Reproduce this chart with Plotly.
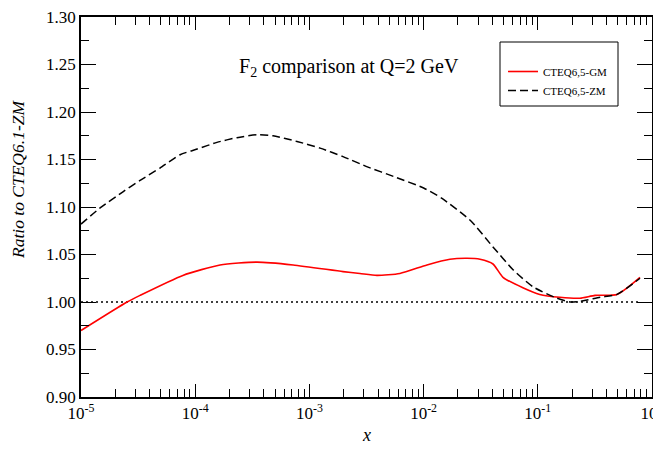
import plotly.graph_objects as go

# Data
x_gm = [1e-5, 2.53e-5, 3.29e-5, 7.8e-5, 1.65e-4, 3.48e-4, 7.2e-4, 1.97e-3, 2.77e-3, 3.9e-3,
        6.2e-3, 1.07e-2, 1.70e-2, 2.40e-2, 3.12e-2, 4.05e-2, 4.96e-2, 7.4e-2, 0.104, 0.156,
        0.234, 0.317, 0.494, 0.785]
y_gm = [0.970, 1.000, 1.007, 1.028, 1.039, 1.042, 1.039, 1.032, 1.030, 1.028,
        1.030, 1.039, 1.045, 1.046, 1.045, 1.040, 1.026, 1.015, 1.008, 1.005,
        1.004, 1.007, 1.008, 1.026]

x_zm = [1e-5, 1.47e-5, 2.33e-5, 3.29e-5, 4.92e-5, 7.37e-5, 1.04e-4, 1.55e-4, 2.32e-4, 3.48e-4,
        4.80e-4, 7.78e-4, 1.24e-3, 1.97e-3, 3.26e-3, 5.5e-3, 1.0e-2, 1.45e-2, 2.56e-2, 4.05e-2,
        6.07e-2, 9.08e-2, 0.147, 0.191, 0.244, 0.351, 0.494, 0.785]
y_zm = [1.082, 1.099, 1.116, 1.128, 1.141, 1.155, 1.161, 1.168, 1.173, 1.176,
        1.175, 1.169, 1.162, 1.153, 1.142, 1.132, 1.120, 1.109, 1.086, 1.058,
        1.034, 1.016, 1.004, 1.000, 1.001, 1.005, 1.008, 1.025]

x_ref = [1e-5, 0.8]
y_ref = [1.0, 1.0]

x_ticks = [1e-5, 1e-4, 1e-3, 1e-2, 1e-1, 1]
x_ticktext = ["10<sup>-5</sup>", "10<sup>-4</sup>", "10<sup>-3</sup>", "10<sup>-2</sup>",
              "10<sup>-1</sup>", "10<sup>0</sup>"]

minor_x = [m * 10 ** e for e in range(-5, 0) for m in range(2, 10)]

FONT = "Liberation Serif"

fig = go.Figure()
fig.add_trace(go.Scatter(x=x_ref, y=y_ref, mode="lines", showlegend=False,
                         line=dict(color="black", width=1.5, dash="2px,3px")))
fig.add_trace(go.Scatter(x=x_gm, y=y_gm, mode="lines", name="CTEQ6,5-GM",
                         line=dict(color="#ff0000", width=1.6, shape="spline", smoothing=0.6)))
fig.add_trace(go.Scatter(x=x_zm, y=y_zm, mode="lines", name="CTEQ6,5-ZM",
                         line=dict(color="black", width=1.5, dash="8px,4px", shape="spline", smoothing=0.6)))

# page body has an 8px default margin, so the figure is sized/offset to compensate
fig.update_layout(
    width=653, height=446,
    margin=dict(l=73, r=9, t=9, b=57),
    paper_bgcolor="white", plot_bgcolor="white",
    font=dict(family=FONT, color="black", size=15),
    showlegend=True,
    legend=dict(x=(503 - 81) / 571, y=(397 - 57) / 380, xanchor="left", yanchor="top",
                bgcolor="rgba(0,0,0,0)", borderwidth=0,
                font=dict(family=FONT, size=11), tracegroupgap=0,
                itemwidth=30),
    shapes=[dict(type="rect", xref="paper", yref="paper",
                 x0=(500 - 81) / 571, x1=(618 - 81) / 571,
                 y0=(397 - 106) / 380, y1=(397 - 42) / 380,
                 line=dict(color="black", width=1))],
    annotations=[dict(text="F<sub>2</sub> comparison at Q=2 GeV", xref="paper", yref="paper",
                      x=(349 - 81) / 571, y=(397 - 68) / 380, showarrow=False, xanchor="center", yanchor="middle",
                      font=dict(family=FONT, size=20)),
                 dict(text="<i>x</i>", xref="paper", yref="paper", x=(366 - 81) / 571,
                      y=(397 - 435) / 380, showarrow=False, xanchor="center", yanchor="middle",
                      font=dict(family=FONT, size=18)),
                 dict(text="<i>Ratio to CTEQ6.1-ZM</i>", xref="paper", yref="paper",
                      x=(18 - 81) / 571, y=(397 - 180) / 380, showarrow=False, textangle=-90,
                      xanchor="center", yanchor="middle",
                      font=dict(family=FONT, size=17.5))],
)

fig.update_xaxes(
    type="log", range=[-5, 0], automargin=False,
    tickmode="array", tickvals=x_ticks, ticktext=x_ticktext,
    ticklabeloverflow="allow",
    ticks="inside", ticklen=13, tickwidth=1, tickcolor="black",
    minor=dict(tickmode="array", tickvals=minor_x, ticks="inside", ticklen=8,
               tickcolor="black", tickwidth=1, showgrid=False),
    showline=True, linecolor="black", linewidth=1.5, mirror="ticks",
    showgrid=False, zeroline=False,
    tickfont=dict(family=FONT, size=17),
)
fig.update_yaxes(
    range=[0.9, 1.3], dtick=0.05, tick0=0.9, tickformat=".2f", automargin=False,
    ticklabeloverflow="allow",
    ticks="inside", ticklen=15, tickwidth=1, tickcolor="black",
    minor=dict(dtick=0.025, ticks="inside", ticklen=8, tickcolor="black",
               tickwidth=1, showgrid=False),
    showline=True, linecolor="black", linewidth=1.5, mirror="ticks",
    showgrid=False, zeroline=False,
    tickfont=dict(family=FONT, size=17),
)

fig.write_html("out.html")
